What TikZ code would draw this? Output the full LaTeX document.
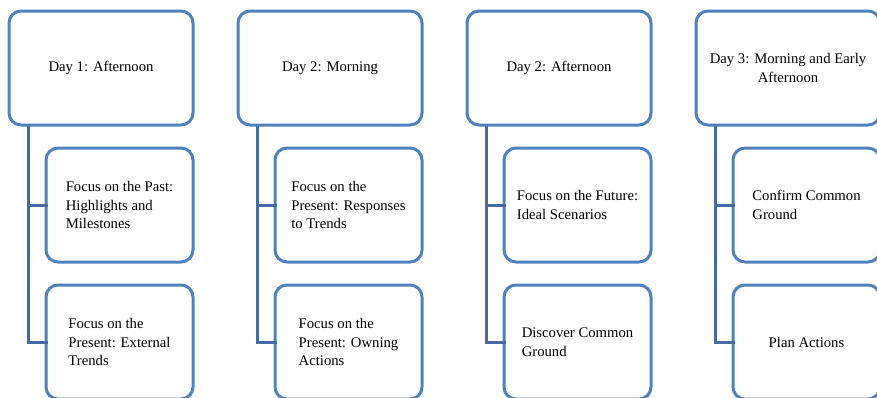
\documentclass[tikz,border=0pt]{standalone}
\usepackage{fontspec}
\setmainfont{Liberation Serif}
\definecolor{boxblue}{RGB}{79,129,189}
\definecolor{lineblue}{RGB}{70,106,164}
\begin{document}
\begin{tikzpicture}[x=1pt,y=-1pt,
  topbox/.style={draw=boxblue,line width=3pt,rounded corners=12pt,fill=white,
    minimum width=184pt,minimum height=114pt,inner sep=2pt,outer sep=0pt,
    align=center,font=\fontsize{14.7}{18.5}\selectfont},
  subbox/.style={draw=boxblue,line width=3pt,rounded corners=12pt,fill=white,
    minimum width=147pt,minimum height=114pt,inner sep=2pt,outer sep=0pt,
    align=left,font=\fontsize{14.7}{18.5}\selectfont},
  conn/.style={draw=lineblue,line width=3pt}]
\useasboundingbox (0,0) rectangle (877,397);
\foreach \i/\ta/\sa/\sb in {
  0/{Day 1: Afternoon}/{Focus on the Past:\\Highlights and\\Milestones}/{Focus on the\\Present: External\\Trends},
  1/{Day 2: Morning}/{Focus on the\\Present: Responses\\to Trends}/{Focus on the\\Present: Owning\\Actions},
  2/{Day 2: Afternoon}/{Focus on the Future:\\Ideal Scenarios}/{Discover Common\\Ground},
  3/{Day 3: Morning and Early\\Afternoon}/{Confirm Common\\Ground}/{Plan Actions}}{
  \coordinate (s\i) at (28+229*\i,125);
  \node[subbox] (a\i) at (119.5+229*\i,205) {\sa};
  \node[subbox] (b\i) at (119.5+229*\i,342) {\sb};
  \draw[conn] (s\i) |- ([xshift=1.5pt]b\i.west);
  \draw[conn] (s\i |- a\i.west) -- ([xshift=1.5pt]a\i.west);
  \node[topbox] (t\i) at (101+229*\i,68) {\ta};
}
\end{tikzpicture}
\end{document}
